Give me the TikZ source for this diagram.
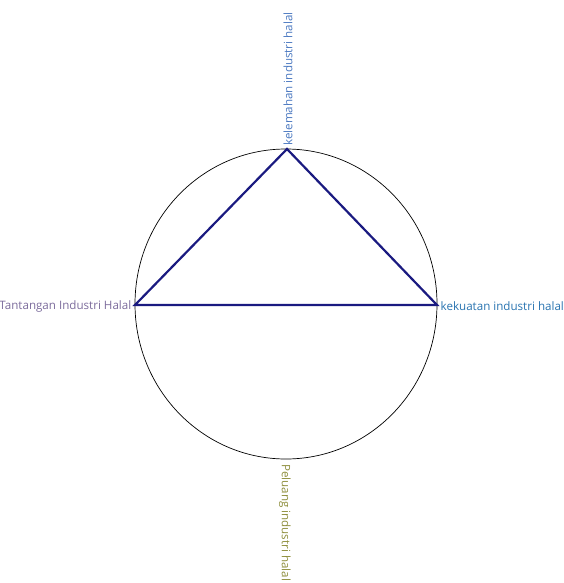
\documentclass[tikz,border=0pt]{standalone}
\usepackage{fontspec}
\setmainfont{Open Sans}
\usetikzlibrary{positioning}
\definecolor{tri}{HTML}{1A1A80}
\definecolor{weak}{HTML}{4A78C0}
\definecolor{strong}{HTML}{2873B0}
\definecolor{threat}{HTML}{7C6C9C}
\definecolor{chance}{HTML}{8E8E3C}

\begin{document}
\begin{tikzpicture}[x=1pt, y=-1pt, font=\fontsize{11.6}{13}\selectfont,
  lbl/.style={inner sep=1pt, anchor=west}]
  \useasboundingbox (0,0) rectangle (563,583);
  \clip (0,0) rectangle (563,583);

  \coordinate (c) at (286,304);
  \draw[black, line width=0.7pt] (c) ellipse [x radius=151, y radius=155];

  \coordinate (top) at (287,149);
  \coordinate (left) at (135,305);
  \coordinate (right) at (437,305);
  \coordinate (bottom) at (286,459);

  \draw[tri, line width=2.2pt, line join=miter] (left) -- (top) -- (right) -- cycle;

  \node[lbl, text=weak, rotate=90] (kelemahan) at (288,147) {kelemahan industri halal};
  \node[lbl, text=strong] (kekuatan) at (439.5,306) {kekuatan industri halal};
  \node[lbl, text=threat, anchor=east] (tantangan) at (132.5,306) {Tantangan Industri Halal};
  \node[lbl, text=chance, rotate=-90] (peluang) at (285,463) {Peluang industri halal};
\end{tikzpicture}
\end{document}
